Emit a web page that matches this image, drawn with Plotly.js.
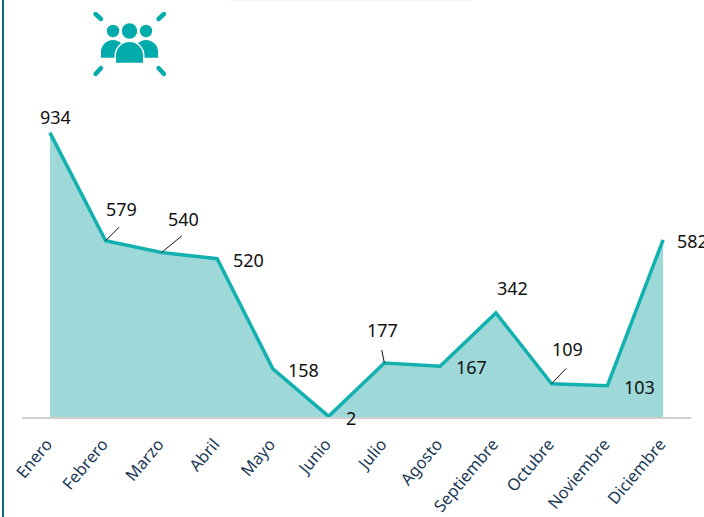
<!DOCTYPE html>
<html>
<head>
<meta charset="utf-8">
<script src="https://cdn.plot.ly/plotly-3.0.1.min.js"></script>
<style>
html,body{margin:0;padding:0;background:#fff;overflow:hidden}
#wrap{position:relative;width:704px;height:517px}
#chart{position:absolute;left:0;top:0;width:704px;height:517px}
#edge{position:absolute;left:2px;top:0;width:2px;height:517px;background:#0f6b78}
#topline{position:absolute;left:230px;top:0;width:242px;height:1px;background:#f5f5f5}
#icon{position:absolute;left:0;top:0;pointer-events:none}
</style>
</head>
<body>
<div id="wrap">
<div id="chart"></div>
<div id="edge"></div>
<div id="topline"></div>
<svg id="icon" width="200" height="90" viewBox="0 0 200 90">
  <g fill="#00abab">
    <circle cx="113" cy="31" r="6.2"/>
    <circle cx="146" cy="31" r="6.2"/>
    <circle cx="129.5" cy="31" r="7.7"/>
    <path d="M101 57.7V52A12 12 0 0 1 125 52V57.7Z"/>
    <path d="M134 57.7V52A12 12 0 0 1 158 52V57.7Z"/>
    <path d="M116 62.7V55.5A13.5 13.5 0 0 1 143 55.5V62.7Z" stroke="#fff" stroke-width="3" paint-order="stroke"/>
  </g>
  <g stroke="#00abab" stroke-width="4.4" stroke-linecap="round">
    <line x1="95.5" y1="14" x2="101" y2="19"/>
    <line x1="164" y1="14" x2="158.5" y2="19"/>
    <line x1="95.5" y1="74" x2="101" y2="68"/>
    <line x1="164" y1="74" x2="158.5" y2="68"/>
  </g>
</svg>
</div>
<script>
const months = ["Enero","Febrero","Marzo","Abril","Mayo","Junio","Julio","Agosto","Septiembre","Octubre","Noviembre","Diciembre"];
const values = [934,579,540,520,158,2,177,167,342,109,103,582];
// label offsets from each point, in pixels
const labelDx = [6,16,22,31,31,22,-2,31,17,16,32,29];
const labelDy = [-16,-32,-34,1,1,2,-33,1,-25,-35,1,1];
// leader lines from a point, in pixels
const leaderMonths = ["Febrero","Marzo","Julio","Octubre"];
const leaderDx = [15,22,-3,16];
const leaderDy = [-15,-18,-15,-17];

const labels = months.map((m,i)=>({
  x:m, y:values[i], xref:'x', yref:'y', text:String(values[i]),
  showarrow:false, xshift:labelDx[i], yshift:-labelDy[i],
  xanchor:'center', yanchor:'middle',
  font:{family:'"Noto Sans", sans-serif', size:18, color:'#111111'}
}));
const leaders = leaderMonths.map((m,i)=>({
  x:m, y:values[months.indexOf(m)], xref:'x', yref:'y', text:' ',
  showarrow:true, arrowhead:0, arrowwidth:1, arrowcolor:'#111111',
  ax:leaderDx[i], ay:leaderDy[i], standoff:0, startstandoff:0,
  font:{size:1}
}));

Plotly.newPlot('chart',[{
  type:'scatter', mode:'lines', x:months, y:values,
  fill:'tozeroy', fillcolor:'#9ed8d9',
  line:{color:'#12b0ae', width:3.5, shape:'linear'},
  hoverinfo:'skip', cliponaxis:false
}],{
  width:704, height:517,
  margin:{l:22,r:13,t:10,b:100,pad:0},
  paper_bgcolor:'rgba(0,0,0,0)', plot_bgcolor:'rgba(0,0,0,0)',
  showlegend:false,
  xaxis:{type:'category', range:[-0.5,11.5], tickangle:-50, showgrid:false, zeroline:false,
    showline:true, linecolor:'#d0d0d0', linewidth:2, ticks:'', ticklen:0, ticklabelstandoff:9, ticklabelshift:-3,
    tickfont:{family:'"Noto Sans", sans-serif', size:16.5, color:'#1c3a57'},
    automargin:false},
  yaxis:{range:[0,1336.6], visible:false, showgrid:false, zeroline:false, fixedrange:true},
  annotations:labels.concat(leaders)
},{displayModeBar:false, staticPlot:true});
</script>
</body>
</html>
